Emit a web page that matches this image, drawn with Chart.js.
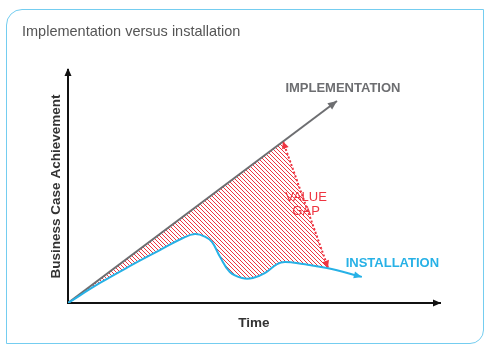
<!DOCTYPE html>
<html>
<head>
<meta charset="utf-8">
<script src="https://cdn.jsdelivr.net/npm/chart.js@4.4.1/dist/chart.umd.min.js"></script>
<style>
  html, body { margin: 0; padding: 0; background: #fff; }
  body { width: 491px; height: 354px; position: relative; overflow: hidden; }
  .card {
    position: absolute; left: 6px; top: 9px; width: 476px; height: 333px;
    border: 1.5px solid #74cdf0; border-radius: 16px 0 14px 0;
  }
  canvas { position: absolute; left: 0; top: 0; }
</style>
</head>
<body>
<div class="card"></div>
<canvas id="gapChart" width="491" height="354"></canvas>
<script>
/* eslint-disable no-undef */
const chartTitle = 'Implementation versus installation';
const xTitle = 'Time';
const yTitle = 'Business Case Achievement';

// implementation: straight line from origin
const implTime = [0, 72.3];
const implValue = [0, 86.7];

// installation: rises, dips, small bump, then declines
const instTime = [0, 8.6, 16.7, 24.7, 30.9, 34.1, 36.8, 38.7, 40.9, 43.5, 46.8, 49.7, 53.0, 56.2, 58.3, 63.2, 69.6, 79.0];
const instValue = [0, 8.6, 15.9, 22.7, 27.9, 29.6, 28.5, 26.2, 19.7, 13.3, 10.7, 10.7, 12.9, 16.7, 17.6, 16.7, 15.0, 11.2];

// value gap: upper edge follows implementation, then drops to installation
const gapTime = [0, 57.8, 69.9];
const gapValue = [0, 69.3, 15.2];

const toPoints = (xs, ys) => xs.map((x, i) => ({ x, y: ys[i] }));

const gray = '#6d6e71';
const blue = '#27b1e6';
const red = '#ee3440';

const hatch = document.createElement('canvas');
hatch.width = 4;
hatch.height = 4;
const hctx = hatch.getContext('2d');
hctx.strokeStyle = 'rgba(238,52,64,1)';
hctx.lineWidth = 1;
hctx.beginPath();
hctx.moveTo(-1, -1); hctx.lineTo(5, 5);
hctx.moveTo(3, -1); hctx.lineTo(5, 1);
hctx.moveTo(-1, 3); hctx.lineTo(1, 5);
hctx.stroke();
const hatchPattern = hctx.createPattern(hatch, 'repeat');

const arrowHead = (ctx, x1, y1, x2, y2, len, half, color) => {
  const a = Math.atan2(y2 - y1, x2 - x1);
  ctx.save();
  ctx.fillStyle = color;
  ctx.beginPath();
  ctx.moveTo(x2, y2);
  ctx.lineTo(x2 - len * Math.cos(a) + half * Math.sin(a), y2 - len * Math.sin(a) - half * Math.cos(a));
  ctx.lineTo(x2 - len * Math.cos(a) - half * Math.sin(a), y2 - len * Math.sin(a) + half * Math.cos(a));
  ctx.closePath();
  ctx.fill();
  ctx.restore();
};

const annotations = {
  id: 'annotations',
  afterDatasetsDraw(chart) {
    const { ctx, chartArea: area, scales: { x, y } } = chart;
    const px = (v) => x.getPixelForValue(v);
    const py = (v) => y.getPixelForValue(v);

    // axis arrows
    arrowHead(ctx, area.left, area.bottom, area.left, area.top - 2, 8, 3.5, '#111');
    arrowHead(ctx, area.left, area.bottom, area.right + 1, area.bottom, 8, 3.5, '#111');

    // line end arrows
    const li = implTime.length - 1;
    arrowHead(ctx, px(implTime[li - 1]), py(implValue[li - 1]), px(implTime[li]), py(implValue[li]), 9, 4, gray);
    const ii = instTime.length - 1;
    arrowHead(ctx, px(instTime[ii - 1]), py(instValue[ii - 1]), px(instTime[ii]), py(instValue[ii]), 8, 3.5, blue);

    // value gap arrows
    const gx1 = px(gapTime[1]), gy1 = py(gapValue[1]);
    const gx2 = px(gapTime[2]), gy2 = py(gapValue[2]);
    arrowHead(ctx, gx2, gy2, gx1, gy1, 7, 3.5, red);
    arrowHead(ctx, gx1, gy1, gx2, gy2, 7, 3.5, red);

    ctx.save();
    ctx.textBaseline = 'middle';
    ctx.textAlign = 'center';
    ctx.font = 'bold 13px "Liberation Sans", Arial, sans-serif';
    ctx.fillStyle = gray;
    ctx.fillText('IMPLEMENTATION', px(73.9), py(92.3));
    ctx.fillStyle = blue;
    ctx.fillText('INSTALLATION', px(87.2), py(17.2));

    ctx.font = '13px "Liberation Sans", Arial, sans-serif';
    ctx.fillStyle = red;
    ctx.fillText('VALUE', px(64.0), py(45.1));
    ctx.fillText('GAP', px(64.0), py(39.5));

    ctx.font = 'bold 13.5px "Liberation Sans", Arial, sans-serif';
    ctx.fillStyle = '#333';
    ctx.fillText(xTitle, (area.left + area.right) / 2, area.bottom + 20);
    ctx.save();
    ctx.translate(area.left - 12, (area.top + area.bottom) / 2);
    ctx.rotate(-Math.PI / 2);
    ctx.fillText(yTitle, 0, 0);
    ctx.restore();

    ctx.textAlign = 'left';
    ctx.font = '14.5px "Liberation Sans", Arial, sans-serif';
    ctx.fillStyle = '#555';
    ctx.fillText(chartTitle, 22, 32);
    ctx.restore();
  },
};

document.addEventListener('DOMContentLoaded', () => {
  const ctx = document.getElementById('gapChart');

  const hiddenAxis = (fit) => ({
    type: 'linear',
    min: 0,
    max: 100,
    grid: { display: false },
    ticks: { display: false },
    border: { display: true, color: '#111', width: 2 },
    afterFit: fit,
  });

  new Chart(ctx, {
    type: 'line',
    data: {
      datasets: [
        {
          label: 'Value gap',
          data: toPoints(gapTime, gapValue),
          borderColor: 'transparent',
          borderWidth: 0,
          backgroundColor: hatchPattern,
          fill: { target: 1 },
          tension: 0,
          pointRadius: 0,
        },
        {
          label: 'Installation',
          data: toPoints(instTime, instValue),
          borderColor: blue,
          borderWidth: 2,
          fill: false,
          tension: 0.4,
          pointRadius: 0,
        },
        {
          label: 'Implementation',
          data: toPoints(implTime, implValue),
          borderColor: gray,
          borderWidth: 2,
          fill: false,
          tension: 0,
          pointRadius: 0,
        },
        {
          label: 'Gap marker',
          data: toPoints(gapTime.slice(1), gapValue.slice(1)),
          borderColor: red,
          borderWidth: 2,
          borderDash: [2, 2],
          fill: false,
          tension: 0,
          pointRadius: 0,
        },
      ],
    },
    options: {
      responsive: false,
      animation: false,
      events: [],
      layout: { padding: { left: 68, right: 51, top: 70, bottom: 51 } },
      scales: {
        x: hiddenAxis((s) => { s.height = 0; }),
        y: hiddenAxis((s) => { s.width = 0; }),
      },
      plugins: {
        legend: { display: false },
        tooltip: { enabled: false },
        filler: { drawTime: 'beforeDatasetsDraw' },
      },
    },
    plugins: [annotations],
  });
});
</script>
</body>
</html>
